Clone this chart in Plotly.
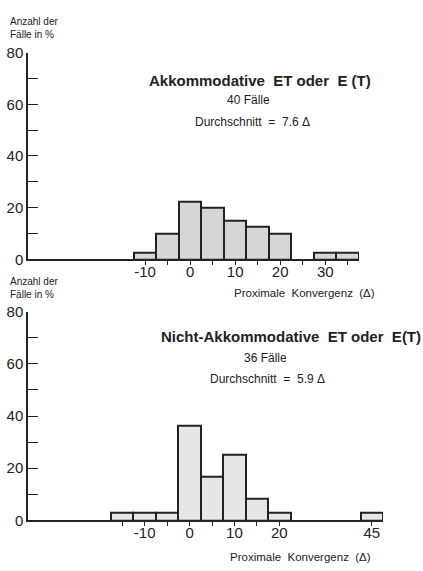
import plotly.graph_objects as go

# Histogram bins (centre of each 5-prism class) and percentage of cases
akk_bins = [-10, -5, 0, 5, 10, 15, 20, 30, 35]
akk_pct = [2.5, 10, 22.5, 20, 15, 12.5, 10, 2.5, 2.5]

nicht_bins = [-15, -10, -5, 0, 5, 10, 15, 20, 45]
nicht_pct = [2.78, 2.78, 2.78, 36.1, 16.7, 25, 8.3, 2.78, 2.78]
# the 45-class sits behind a break in the scale; its drawn position:
nicht_pos = {45: 40.6}

akk_ticks = [-10, -5, 0, 5, 10, 15, 20, 25, 30, 35]
akk_labels = ["-10", "", "0", "", "10", "", "20", "", "30", ""]
nicht_ticks = [-15, -10, -5, 0, 5, 10, 15, 20, 45]
nicht_labels = ["", "-10", "", "0", "", "10", "", "20", "45"]
y_ticks = [0, 10, 20, 30, 40, 50, 60, 70, 80]
y_labels = ["0", "", "20", "", "40", "", "60", "", "80"]

W, H = 423, 571
FONT = "Liberation Sans"
INK = "#222222"

fig = go.Figure()

fig.add_trace(go.Bar(
    x=akk_bins, y=akk_pct, width=5, xaxis="x", yaxis="y",
    marker=dict(color="#d6d6d6", line=dict(color=INK, width=2)),
    showlegend=False))

nicht_x = [nicht_pos.get(b, b) for b in nicht_bins]
fig.add_trace(go.Bar(
    x=nicht_x, y=nicht_pct, width=5, xaxis="x2", yaxis="y2",
    marker=dict(color="#e6e6e6", line=dict(color=INK, width=2)),
    showlegend=False))

L = 28
pw = W - L


def px_y(p):
    return (H - p) / H


def xaxis(domain_right_px, rng, ticks, labels, anchor):
    return dict(
        domain=[0, (domain_right_px - L) / pw], range=rng, anchor=anchor,
        showline=True, linecolor=INK, linewidth=1.5, showgrid=False,
        zeroline=False, tickmode="array", tickvals=ticks, ticktext=labels,
        ticks="outside", ticklen=4, tickwidth=1.2, tickcolor=INK,
        ticklabelstandoff=-6,
        tickfont=dict(family=FONT, size=15, color=INK), fixedrange=True)


def yaxis(top_px, bot_px, anchor):
    return dict(
        domain=[px_y(bot_px), px_y(top_px)], range=[0, 80], anchor=anchor,
        showline=True, linecolor=INK, linewidth=1.5, showgrid=False,
        zeroline=False, tickmode="array", tickvals=y_ticks, ticktext=y_labels,
        ticks="inside", ticklen=10, tickwidth=1.2, tickcolor=INK,
        tickfont=dict(family=FONT, size=15, color=INK), fixedrange=True)


fig.update_layout(
    width=W, height=H,
    margin=dict(l=L, r=0, t=0, b=0),
    paper_bgcolor="white", plot_bgcolor="rgba(0,0,0,0)",
    bargap=0,
    xaxis=xaxis(359, [-36, 37.5], akk_ticks, akk_labels, "y"),
    yaxis=yaxis(45, 258, "x"),
    xaxis2=xaxis(383, [-36, 43.1], [nicht_pos.get(t, t) for t in nicht_ticks],
                 nicht_labels, "y2"),
    yaxis2=yaxis(312, 527, "x2"),
)


def text(x_px, y_px, s, size, bold=False, anchor="center"):
    fig.add_annotation(
        xref="paper", yref="paper",
        x=(x_px - L) / pw, y=px_y(y_px), text=f"<b>{s}</b>" if bold else s,
        showarrow=False, xanchor=anchor, yanchor="middle", align="left",
        font=dict(family=FONT, size=size, color=INK))


# upper panel
text(8, 20, "Anzahl der<br>Fälle in %", 10, anchor="left")
text(260, 74, "Akkommodative  ET oder  E (T)", 15, bold=True)
text(248, 94, "40 Fälle", 12)
text(252, 116, "Durchschnitt  =  7.6 Δ", 12)
text(304, 293, "Proximale  Konvergenz  (Δ)", 11.5)

# lower panel
text(8, 288, "Anzahl der<br>Fälle in %", 10, anchor="left")
text(291, 338, "Nicht-Akkommodative  ET oder  E(T)", 15, bold=True)
text(265, 360, "36 Fälle", 12)
text(267, 381, "Durchschnitt  =  5.9 Δ", 12)
text(300, 565, "Proximale  Konvergenz  (Δ)", 11.5)

fig.write_html("out.html")
